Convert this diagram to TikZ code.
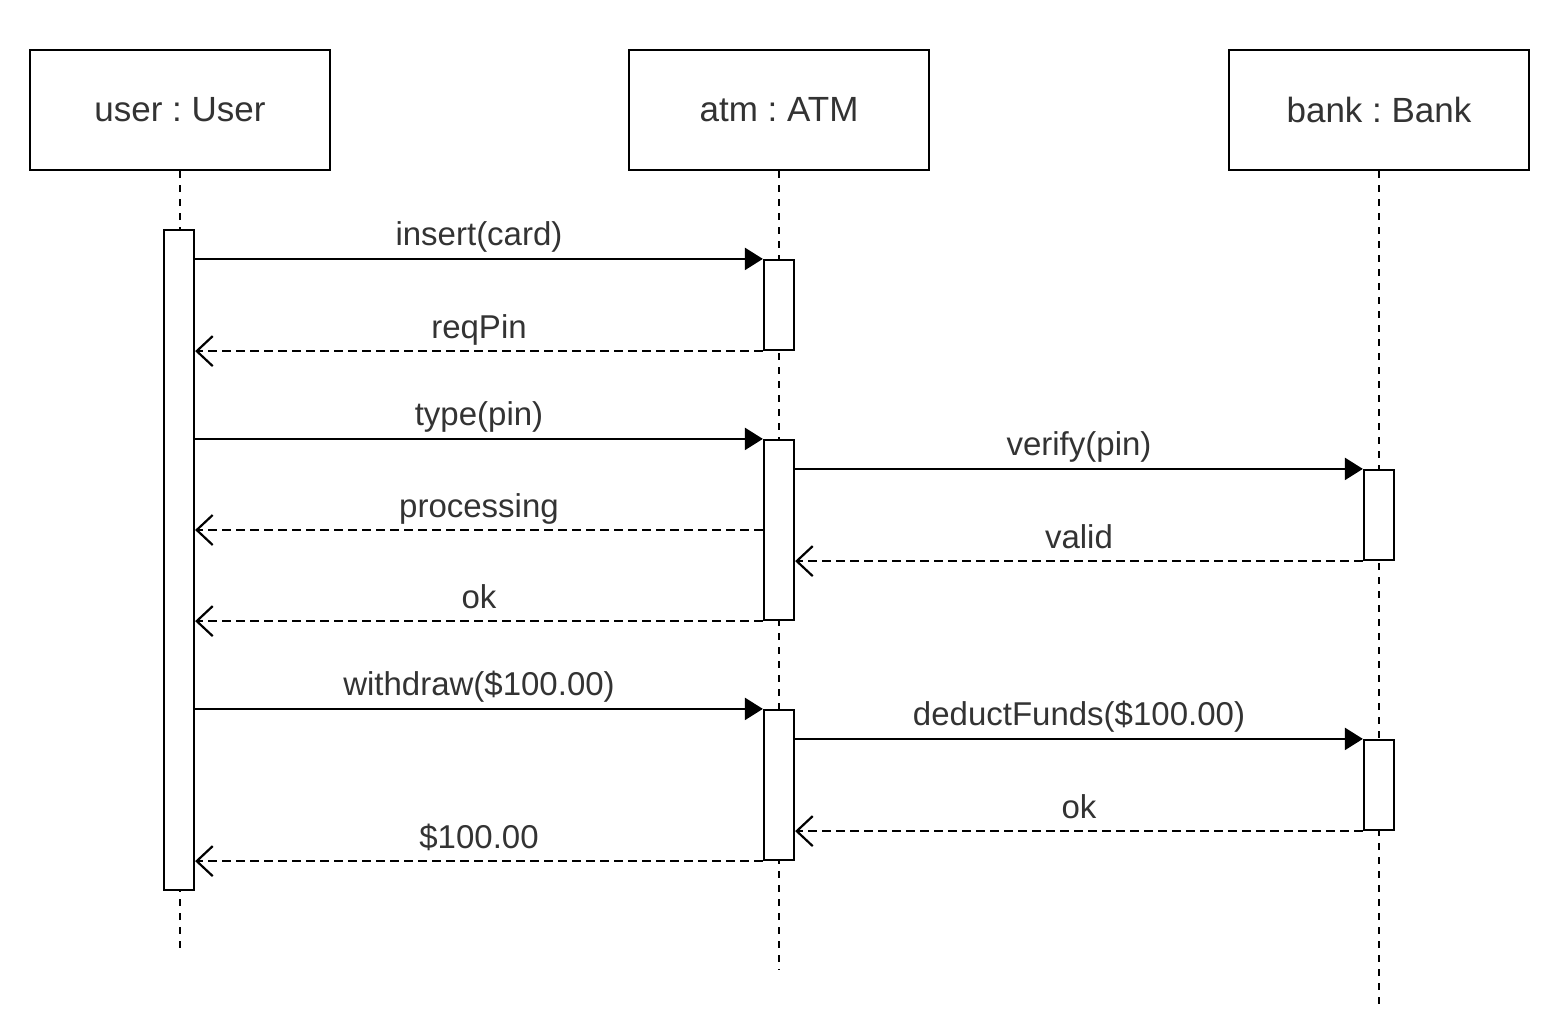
\documentclass[tikz,border=0pt]{standalone}
\usepackage{fontspec}
\setmainfont{Liberation Sans}
\usepackage{xcolor}
\usetikzlibrary{arrows.meta,positioning}
\definecolor{ink}{HTML}{000000}
\definecolor{txt}{HTML}{333333}
\frenchspacing

\begin{document}
\begin{tikzpicture}[
    x=0.5pt, y=-0.5pt,
    objbox/.style={draw=ink, line width=1.1pt, fill=white, minimum width=150pt,
                   minimum height=60pt, text=txt, font=\fontsize{17.5}{21}\selectfont},
    act/.style={draw=ink, line width=1.1pt, fill=white, minimum width=15pt, inner sep=0pt},
    life/.style={draw=ink, line width=1.1pt, dash pattern=on 3.5pt off 3.5pt},
    msg/.style={-{Triangle[length=9pt,width=11pt]}, line width=1.1pt, draw=ink},
    ret/.style={-{Straight Barb[length=8pt,width=15pt,line width=1.1pt]}, line width=1.1pt,
                draw=ink, dash pattern=on 4.5pt off 2.5pt},
    lbl/.style={midway, anchor=base, yshift=6.5pt, inner sep=0pt, text=txt,
                font=\fontsize{16.5}{20}\selectfont}
  ]
  \useasboundingbox (0,0) rectangle (1565,1019);

  %%%%%%%%%%%%% Objects %%%%%%%%%%%%%
  \node[objbox] (user) at (180,110) {user : User};
  \node[objbox] (atm) at (779,110) {atm : ATM};
  \node[objbox] (bank) at (1379,110) {bank : Bank};

  %%%%%%%%%%%%% Lifelines %%%%%%%%%%%%%
  \coordinate (userEnd) at (180,950);
  \coordinate (atmEnd) at (779,970);
  \coordinate (bankEnd) at (1379,1008);
  \draw[life] (user) -- (userEnd);
  \draw[life] (atm) -- (atmEnd);
  \draw[life] (bank) -- (bankEnd);

  %%%%%%%%%%%%% Activations %%%%%%%%%%%%%
  \node[act, minimum height=330pt] (uAct) at (179,560) {};
  \node[act, minimum height=45pt] (aActA) at (779,305) {};
  \node[act, minimum height=90pt] (aActB) at (779,530) {};
  \node[act, minimum height=45pt] (bActA) at (1379,515) {};
  \node[act, minimum height=75pt] (aActC) at (779,785) {};
  \node[act, minimum height=45pt] (bActB) at (1379,785) {};

  %%%%%%%%%%%%% Card and pin %%%%%%%%%%%%%
  \draw[msg] (uAct.east |- aActA.north) -- (aActA.north west) node[lbl] {insert(card)};
  \draw[ret] (aActA.south west) -- (uAct.east |- aActA.south) node[lbl] {reqPin};
  \draw[msg] (uAct.east |- aActB.north) -- (aActB.north west) node[lbl] {type(pin)};
  \draw[msg] (aActB.east |- bActA.north) -- (bActA.north west) node[lbl] {verify(pin)};
  \draw[ret] (aActB.west) -- (uAct.east |- aActB.west) node[lbl] {processing};
  \draw[ret] (bActA.south west) -- (aActB.east |- bActA.south) node[lbl] {valid};
  \draw[ret] (aActB.south west) -- (uAct.east |- aActB.south) node[lbl] {ok};

  %%%%%%%%%%%%% Withdrawal %%%%%%%%%%%%%
  \draw[msg] (uAct.east |- aActC.north) -- (aActC.north west) node[lbl] {withdraw(\$100.00)};
  \draw[msg] (aActC.east |- bActB.north) -- (bActB.north west) node[lbl] {deductFunds(\$100.00)};
  \draw[ret] (bActB.south west) -- (aActC.east |- bActB.south) node[lbl] {ok};
  \draw[ret] (aActC.south west) -- (uAct.east |- aActC.south) node[lbl] {\$100.00};

\end{tikzpicture}
\end{document}
